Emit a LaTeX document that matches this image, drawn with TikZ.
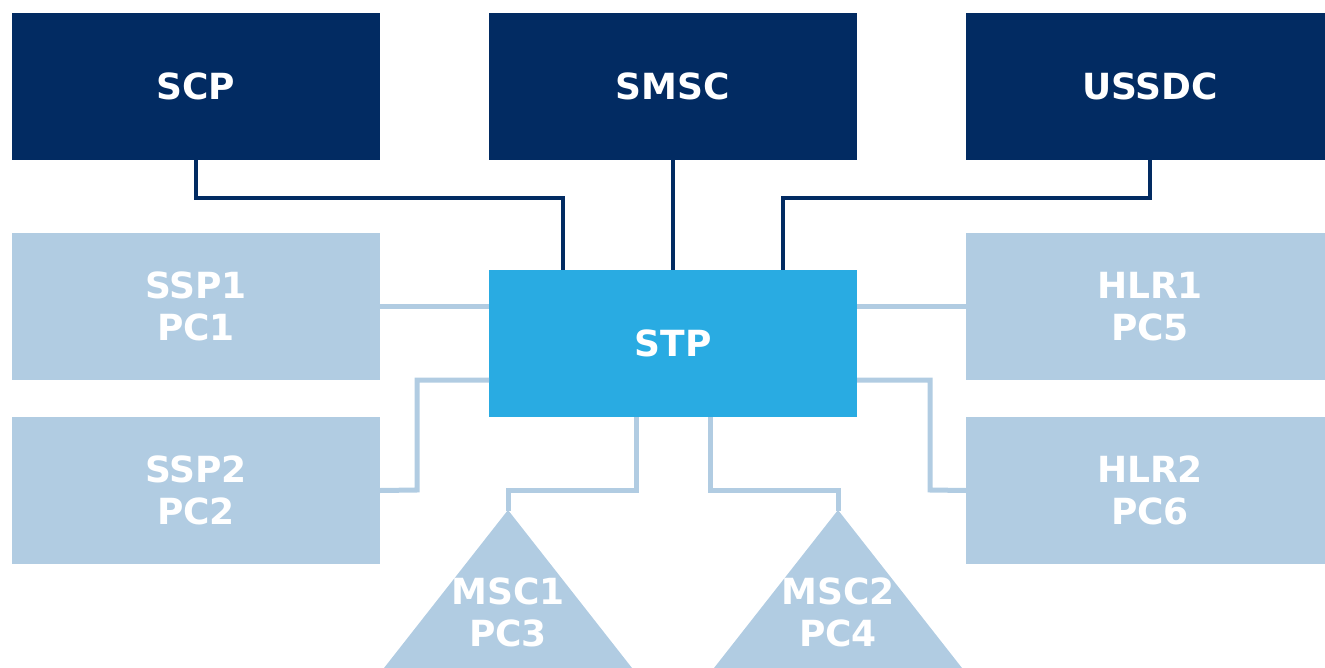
\documentclass[tikz,border=0pt]{standalone}
\usepackage{fontspec}
\setmainfont{DejaVu Sans}
\begin{document}
\definecolor{navy}{HTML}{022B62}
\definecolor{sky}{HTML}{29ABE2}
\definecolor{pale}{HTML}{B1CCE2}
\begin{tikzpicture}[x=1pt,y=-1pt,
  lbl/.style={text=white,font=\bfseries\fontsize{36}{42}\selectfont,align=center,inner sep=0pt},
  dark/.style={fill=navy,draw=none,minimum width=368pt,minimum height=147pt,inner sep=0pt,lbl},
  hub/.style={fill=sky,draw=none,minimum width=368pt,minimum height=147pt,inner sep=0pt,lbl},
  light/.style={fill=pale,draw=none,minimum width=368pt,minimum height=147pt,inner sep=0pt,lbl},
  darkline/.style={draw=navy,line width=4pt},
  lightline/.style={draw=pale,line width=5pt}]
\useasboundingbox (0,0) rectangle (1325,668);
\clip (0,0) rectangle (1325,668);

% core network elements
\node[dark] (scp)   at (196,86.5) {SCP};
\node[dark] (smsc)  at (673,86.5) {SMSC};
\node[dark] (ussdc) at (1150,86.5) {USSDC};

% signalling transfer point
\node[hub] (stp) at (673,343.5) {STP};

% switching points and registers
\node[light] (ssp1) at (196,306.5) {SSP1\\PC1};
\node[light] (ssp2) at (196,490.5) {SSP2\\PC2};
\node[light] (hlr1) at (1150,306.5) {HLR1\\PC5};
\node[light] (hlr2) at (1150,490.5) {HLR2\\PC6};

% mobile switching centres (triangles)
\fill[pale] (508,510) -- (632,668) -- (384,668) -- cycle;
\fill[pale] (838,510) -- (962,668) -- (714,668) -- cycle;
\coordinate (msc1) at (508,511);
\coordinate (msc2) at (838,511);
\node[lbl] (msc1t) at (508,612) {MSC1\\PC3};
\node[lbl] (msc2t) at (838,612) {MSC2\\PC4};

% connectors to the core
\draw[darkline] (scp.south) |- (563,198) -- (563,270);
\draw[darkline] (smsc.south) -- (stp.north);
\draw[darkline] (ussdc.south) |- (783,198) -- (783,270);

% connectors on the left
\draw[lightline] (ssp1.east) -- (ssp1.east -| stp.west);
\draw[lightline] (ssp2.east) -- (417,490) -- (417,380) -- (489,380);

% connectors on the right
\draw[lightline] (hlr1.west) -- (hlr1.west -| stp.east);
\draw[lightline] (857,380) -- (930,380) -- (930,490) -- (hlr2.west);

% connectors to the triangles
\draw[lightline] (636,417) -- (636,490) -- (508,490) -- (msc1);
\draw[lightline] (710,417) -- (710,490) -- (838,490) -- (msc2);
\end{tikzpicture}
\end{document}
